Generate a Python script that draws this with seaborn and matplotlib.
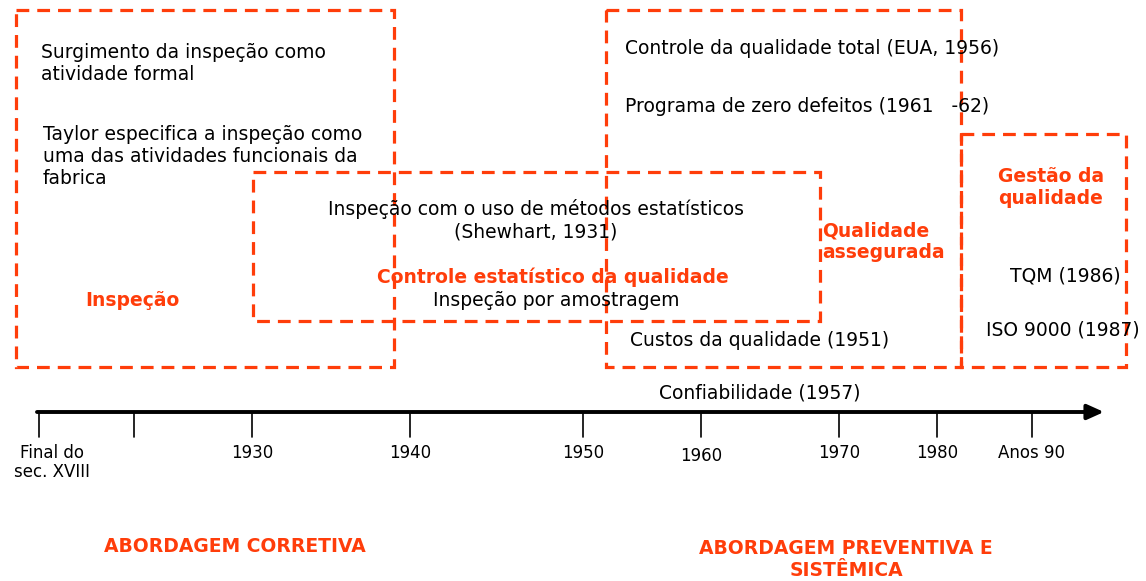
import matplotlib.pyplot as plt
import seaborn as sns
from matplotlib.patches import Rectangle

# Timeline ticks
tick_labels = ['Final do\nsec. XVIII', '', '1930', '1940', '1950', '1960', '1970', '1980', 'Anos 90']
tick_x = [39, 134, 252, 410, 583, 701, 839, 937, 1032]

# Era boxes: name, (x0, y0, x1, y1) in pixel space
eras = ['Inspeção', 'Controle estatístico da qualidade', 'Qualidade\nassegurada', 'Gestão da\nqualidade']
era_boxes = [(16, 10, 394, 367), (253, 172, 820, 321), (606, 10, 961, 367), (961, 134, 1126, 367)]

# Events (plain text)
events = ['Surgimento da inspeção como\natividade formal',
          'Taylor especifica a inspeção como\numa das atividades funcionais da\nfabrica',
          'Inspeção com o uso de métodos estatísticos\n(Shewhart, 1931)',
          'Inspeção por amostragem',
          'Controle da qualidade total (EUA, 1956)',
          'Programa de zero defeitos (1961   -62)',
          'Custos da qualidade (1951)',
          'Confiabilidade (1957)',
          'TQM (1986)',
          'ISO 9000 (1987)']

approaches = ['ABORDAGEM CORRETIVA', 'ABORDAGEM PREVENTIVA E\nSISTÊMICA']

orange = '#ff3d0a'
sns.set_style('white')
plt.rcParams['font.family'] = ['DejaVu Sans']
plt.rcParams['text.color'] = 'black'

fig = plt.figure(figsize=(11.46, 5.81), dpi=100)
ax = fig.add_axes([0, 0, 1, 1])
ax.set_xlim(0, 1146)
ax.set_ylim(581, 0)
ax.axis('off')

# dashed boxes
for (x0, y0, x1, y1) in era_boxes:
    ax.add_patch(Rectangle((x0, y0), x1 - x0, y1 - y0, fill=False, edgecolor=orange,
                           linewidth=2.3, linestyle=(0, (4, 2.5))))

fs = 13.5
# event texts
ax.text(41, 64, events[0], fontsize=fs, ha='left', va='center', linespacing=1.2)
ax.text(43, 156, events[1], fontsize=fs, ha='left', va='center', linespacing=1.2)
ax.text(536, 220, events[2], fontsize=fs, ha='center', va='center', linespacing=1.2)
ax.text(556, 301, events[3], fontsize=fs, ha='center', va='center')
ax.text(625, 48, events[4], fontsize=fs, ha='left', va='center')
ax.text(625, 106, events[5], fontsize=fs, ha='left', va='center')
ax.text(630, 341, events[6], fontsize=fs, ha='left', va='center')
ax.text(760, 393, events[7], fontsize=fs, ha='center', va='center')
ax.text(1121, 276, events[8], fontsize=fs, ha='right', va='center')
ax.text(1140, 330, events[9], fontsize=fs, ha='right', va='center')

# era names
bold = dict(color=orange, fontweight='bold', fontsize=fs, va='center', linespacing=1.2)
ax.text(132, 300, eras[0], ha='center', **bold)
ax.text(553, 277, eras[1], ha='center', **bold)
ax.text(822, 242, eras[2], ha='left', **bold)
ax.text(1051, 187, eras[3], ha='center', **bold)

# timeline
ax.annotate('', xy=(1104, 412), xytext=(37, 412),
            arrowprops=dict(arrowstyle='-|>,head_length=1.0,head_width=0.45', color='black', lw=2.8,
                            shrinkA=0, shrinkB=0))
for x, lab in zip(tick_x, tick_labels):
    ax.plot([x, x], [412, 437], color='black', lw=1.2)
    if not lab:
        continue
    if '\n' in lab:
        ax.text(x + 13, 444, lab, fontsize=12, ha='center', va='top', linespacing=1.05)
    else:
        ax.text(x, 456 if lab == '1960' else 453, lab, fontsize=12, ha='center', va='center')

# approaches
ax.text(235, 547, approaches[0], ha='center', **bold)
ax.text(846, 559, approaches[1], ha='center', **bold)

fig.savefig('out.png', dpi=100)
